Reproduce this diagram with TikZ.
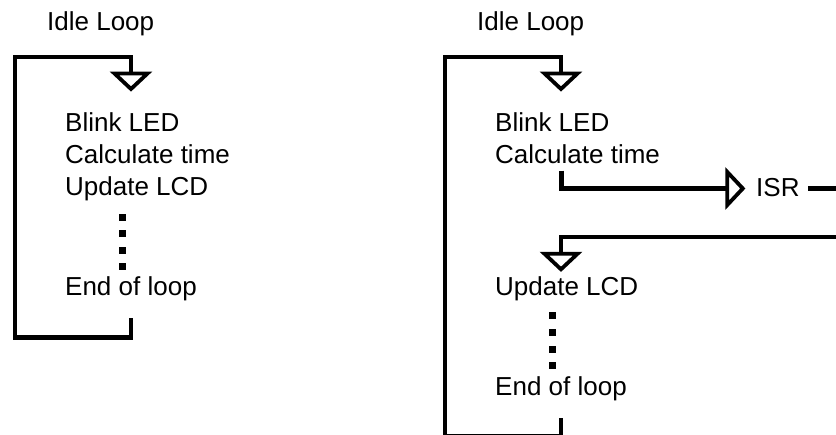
\documentclass[tikz,border=0pt]{standalone}
\usepackage{fontspec}
\setmainfont{Liberation Sans}
\begin{document}
\begin{tikzpicture}[x=1pt,y=-1pt,
  wire/.style={line width=4.2pt, line join=miter, line cap=butt},
  tri/.style={line width=3.8pt, line join=miter, fill=white},
  lbl/.style={anchor=base west, inner sep=0pt, font=\fontsize{26}{31}\selectfont},
  dotsq/.style={fill=black, minimum size=7pt, inner sep=0pt, draw=none}]
\useasboundingbox (0,0) rectangle (836,435);
\clip (0,0) rectangle (836,435);
\fill[white] (0,0) rectangle (836,435);

% ---------- left figure ----------
\node[lbl] (idleA) at (47,31) {Idle Loop};
\node[lbl] (blinkA) at (65,131.7) {Blink LED};
\node[lbl] (calcA) at (65,163.8) {Calculate time};
\node[lbl] (updA) at (65,195.8) {Update LCD};
\node[lbl] (endA) at (65,296) {End of loop};
\node[dotsq] (dA1) at (122,217.5) {};
\node[dotsq] (dA2) at (122,233.8) {};
\node[dotsq] (dA3) at (122,250.1) {};
\node[dotsq] (dA4) at (122,266.4) {};

\coordinate (stubA) at (131,318.3);
\coordinate (brA) at (131,337.5);
\coordinate (blA) at (15,337.5);
\coordinate (tlA) at (15,57);
\coordinate (trA) at (131,57);
\coordinate (arA) at (131,73.5);
\draw[wire] (stubA) -- (brA) -- (blA) -- (tlA) -- (trA) -- (arA);
\draw[tri] ([xshift=-16.5pt]arA) -- ([xshift=16.5pt]arA) -- ([yshift=-15.5pt]arA) -- cycle;

% ---------- right figure ----------
\node[lbl] (idleB) at (477,31) {Idle Loop};
\node[lbl] (blinkB) at (495,131.7) {Blink LED};
\node[lbl] (calcB) at (495,163.8) {Calculate time};
\node[lbl] (isr) at (756,196.7) {ISR};
\node[lbl] (updB) at (495,296) {Update LCD};
\node[lbl] (endB) at (495,395.3) {End of loop};
\node[dotsq] (dB1) at (552,315.8) {};
\node[dotsq] (dB2) at (552,332.6) {};
\node[dotsq] (dB3) at (552,349.4) {};
\node[dotsq] (dB4) at (552,366) {};

\coordinate (stubB) at (561,418.3);
\coordinate (brB) at (561,436.4);
\coordinate (blB) at (445,436.4);
\coordinate (tlB) at (445,57);
\coordinate (trB) at (561,57);
\coordinate (arB) at (561,73.5);
\draw[wire] (stubB) -- (brB) -- (blB) -- (tlB) -- (trB) -- (arB);
\draw[tri] ([xshift=-16.5pt]arB) -- ([xshift=16.5pt]arB) -- ([yshift=-15.5pt]arB) -- cycle;

% interrupt branch
\coordinate (cs) at (561.5,170.7);
\coordinate (cc) at (561.5,188.5);
\coordinate (isrin) at (727.3,188.5);
\draw[wire] (cs) -- (cc) -- (isrin);
\draw[tri] ([yshift=16.5pt]isrin) -- ([yshift=-16.5pt]isrin) -- ([xshift=15.5pt]isrin) -- cycle;

\coordinate (isrout) at (808.3,188.5);
\coordinate (farA) at (852,188.5);
\coordinate (farB) at (852,237);
\coordinate (retB) at (561,237);
\coordinate (arC) at (561,253.8);
\draw[wire] (isrout) -- (farA) -- (farB) -- (retB) -- (arC);
\draw[tri] ([xshift=-16.5pt]arC) -- ([xshift=16.5pt]arC) -- ([yshift=-15.5pt]arC) -- cycle;
\end{tikzpicture}
\end{document}
